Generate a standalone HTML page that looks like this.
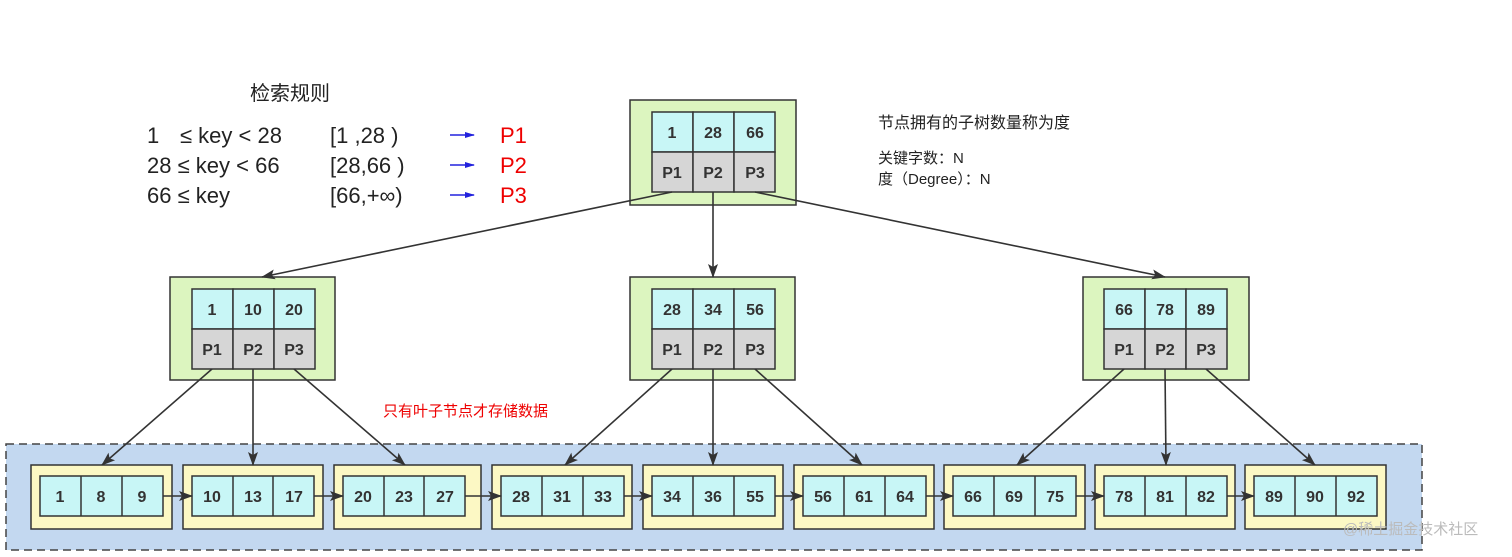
<!DOCTYPE html>
<html><head><meta charset="utf-8"><style>
body{margin:0;background:#fff;}
svg{display:block;}
text{font-family:"Liberation Sans","Noto Sans CJK SC",sans-serif;}
</style></head><body>
<svg width="1512" height="557" viewBox="0 0 1512 557" xmlns="http://www.w3.org/2000/svg">
<defs><marker id="a" markerWidth="14" markerHeight="12" refX="13" refY="6" orient="auto" markerUnits="userSpaceOnUse"><path d="M0,1 L14,6 L0,11 L3,6 z" fill="#333"/></marker>
<marker id="b" markerWidth="10" markerHeight="8" refX="9" refY="4" orient="auto" markerUnits="userSpaceOnUse"><path d="M0,1 L10,4 L0,7 z" fill="#2222dd"/></marker></defs>
<rect width="1512" height="557" fill="#fff"/>
<rect x="6" y="444" width="1416" height="106" fill="#c3d8f0" stroke="#444" stroke-width="1.5" stroke-dasharray="8,5"/>
<text x="250" y="100" font-size="20" fill="#222">检索规则</text>
<g font-size="22" fill="#222">
<text x="147" y="143">1</text><text x="180" y="143">≤ key &lt; 28</text><text x="330" y="143">[1  ,28  )</text>
<text x="147" y="173">28 ≤ key &lt; 66</text><text x="330" y="173">[28,66  )</text>
<text x="147" y="203">66 ≤ key</text><text x="330" y="203">[66,+∞)</text>
<text x="500" y="143" fill="#e00">P1</text><text x="500" y="173" fill="#e00">P2</text><text x="500" y="203" fill="#e00">P3</text>
</g>
<g stroke="#2222dd" stroke-width="1.6" marker-end="url(#b)">
<line x1="450" y1="135" x2="474" y2="135"/><line x1="450" y1="165" x2="474" y2="165"/><line x1="450" y1="195" x2="474" y2="195"/>
</g>
<text x="878" y="128" font-size="16" fill="#222">节点拥有的子树数量称为度</text>
<text x="878" y="163" font-size="15" fill="#222">关键字数：N</text>
<text x="878" y="184" font-size="15" fill="#222">度（Degree）：N</text>
<text x="383" y="416" font-size="15" fill="#e00">只有叶子节点才存储数据</text>
<g stroke="#333" stroke-width="1.5" font-size="17" font-weight="bold" text-anchor="middle">
<rect x="630" y="100" width="166" height="105" fill="#dcf5bf"/>
<rect x="652" y="112" width="41" height="40" fill="#c8f6f6"/><rect x="693" y="112" width="41" height="40" fill="#c8f6f6"/><rect x="734" y="112" width="41" height="40" fill="#c8f6f6"/>
<rect x="652" y="152" width="41" height="40" fill="#d6d6d6"/><rect x="693" y="152" width="41" height="40" fill="#d6d6d6"/><rect x="734" y="152" width="41" height="40" fill="#d6d6d6"/>
<rect x="170" y="277" width="165" height="103" fill="#dcf5bf"/>
<rect x="192" y="289" width="41" height="40" fill="#c8f6f6"/><rect x="233" y="289" width="41" height="40" fill="#c8f6f6"/><rect x="274" y="289" width="41" height="40" fill="#c8f6f6"/>
<rect x="192" y="329" width="41" height="40" fill="#d6d6d6"/><rect x="233" y="329" width="41" height="40" fill="#d6d6d6"/><rect x="274" y="329" width="41" height="40" fill="#d6d6d6"/>
<rect x="630" y="277" width="165" height="103" fill="#dcf5bf"/>
<rect x="652" y="289" width="41" height="40" fill="#c8f6f6"/><rect x="693" y="289" width="41" height="40" fill="#c8f6f6"/><rect x="734" y="289" width="41" height="40" fill="#c8f6f6"/>
<rect x="652" y="329" width="41" height="40" fill="#d6d6d6"/><rect x="693" y="329" width="41" height="40" fill="#d6d6d6"/><rect x="734" y="329" width="41" height="40" fill="#d6d6d6"/>
<rect x="1083" y="277" width="166" height="103" fill="#dcf5bf"/>
<rect x="1104" y="289" width="41" height="40" fill="#c8f6f6"/><rect x="1145" y="289" width="41" height="40" fill="#c8f6f6"/><rect x="1186" y="289" width="41" height="40" fill="#c8f6f6"/>
<rect x="1104" y="329" width="41" height="40" fill="#d6d6d6"/><rect x="1145" y="329" width="41" height="40" fill="#d6d6d6"/><rect x="1186" y="329" width="41" height="40" fill="#d6d6d6"/>
</g>
<g font-size="16" font-weight="bold" fill="#333" text-anchor="middle">
<text x="672" y="138">1</text><text x="713" y="138">28</text><text x="755" y="138">66</text>
<text x="672" y="178">P1</text><text x="713" y="178">P2</text><text x="755" y="178">P3</text>
<text x="212" y="315">1</text><text x="253" y="315">10</text><text x="294" y="315">20</text>
<text x="212" y="355">P1</text><text x="253" y="355">P2</text><text x="294" y="355">P3</text>
<text x="672" y="315">28</text><text x="713" y="315">34</text><text x="755" y="315">56</text>
<text x="672" y="355">P1</text><text x="713" y="355">P2</text><text x="755" y="355">P3</text>
<text x="1124" y="315">66</text><text x="1165" y="315">78</text><text x="1206" y="315">89</text>
<text x="1124" y="355">P1</text><text x="1165" y="355">P2</text><text x="1206" y="355">P3</text>
</g>
<g stroke="#333" stroke-width="1.5">
<rect x="31" y="465" width="141" height="64" fill="#fcf8c4"/><rect x="40" y="476" width="123" height="40" fill="#c8f6f6"/><line x1="81" y1="476" x2="81" y2="516"/><line x1="122" y1="476" x2="122" y2="516"/>
<rect x="183" y="465" width="140" height="64" fill="#fcf8c4"/><rect x="192" y="476" width="122" height="40" fill="#c8f6f6"/><line x1="233" y1="476" x2="233" y2="516"/><line x1="273" y1="476" x2="273" y2="516"/>
<rect x="334" y="465" width="147" height="64" fill="#fcf8c4"/><rect x="343" y="476" width="122" height="40" fill="#c8f6f6"/><line x1="384" y1="476" x2="384" y2="516"/><line x1="424" y1="476" x2="424" y2="516"/>
<rect x="492" y="465" width="140" height="64" fill="#fcf8c4"/><rect x="501" y="476" width="123" height="40" fill="#c8f6f6"/><line x1="542" y1="476" x2="542" y2="516"/><line x1="583" y1="476" x2="583" y2="516"/>
<rect x="643" y="465" width="140" height="64" fill="#fcf8c4"/><rect x="652" y="476" width="123" height="40" fill="#c8f6f6"/><line x1="693" y1="476" x2="693" y2="516"/><line x1="734" y1="476" x2="734" y2="516"/>
<rect x="794" y="465" width="140" height="64" fill="#fcf8c4"/><rect x="803" y="476" width="123" height="40" fill="#c8f6f6"/><line x1="844" y1="476" x2="844" y2="516"/><line x1="885" y1="476" x2="885" y2="516"/>
<rect x="944" y="465" width="141" height="64" fill="#fcf8c4"/><rect x="953" y="476" width="123" height="40" fill="#c8f6f6"/><line x1="994" y1="476" x2="994" y2="516"/><line x1="1035" y1="476" x2="1035" y2="516"/>
<rect x="1095" y="465" width="140" height="64" fill="#fcf8c4"/><rect x="1104" y="476" width="123" height="40" fill="#c8f6f6"/><line x1="1145" y1="476" x2="1145" y2="516"/><line x1="1186" y1="476" x2="1186" y2="516"/>
<rect x="1245" y="465" width="141" height="64" fill="#fcf8c4"/><rect x="1254" y="476" width="123" height="40" fill="#c8f6f6"/><line x1="1295" y1="476" x2="1295" y2="516"/><line x1="1336" y1="476" x2="1336" y2="516"/>
</g>
<g font-size="16" font-weight="bold" fill="#333" text-anchor="middle">
<text x="60" y="502">1</text><text x="101" y="502">8</text><text x="142" y="502">9</text>
<text x="212" y="502">10</text><text x="253" y="502">13</text><text x="294" y="502">17</text>
<text x="363" y="502">20</text><text x="404" y="502">23</text><text x="445" y="502">27</text>
<text x="521" y="502">28</text><text x="562" y="502">31</text><text x="603" y="502">33</text>
<text x="672" y="502">34</text><text x="713" y="502">36</text><text x="755" y="502">55</text>
<text x="823" y="502">56</text><text x="864" y="502">61</text><text x="905" y="502">64</text>
<text x="973" y="502">66</text><text x="1014" y="502">69</text><text x="1055" y="502">75</text>
<text x="1124" y="502">78</text><text x="1165" y="502">81</text><text x="1206" y="502">82</text>
<text x="1274" y="502">89</text><text x="1315" y="502">90</text><text x="1356" y="502">92</text>
</g>
<g stroke="#333" stroke-width="1.6" fill="none" marker-end="url(#a)">
<line x1="672" y1="192" x2="262" y2="277"/><line x1="713" y1="192" x2="713" y2="277"/><line x1="755" y1="192" x2="1165" y2="277"/>
<line x1="212" y1="369" x2="102" y2="465"/><line x1="253" y1="369" x2="253" y2="465"/><line x1="294" y1="369" x2="405" y2="465"/>
<line x1="672" y1="369" x2="565" y2="465"/><line x1="713" y1="369" x2="713" y2="465"/><line x1="755" y1="369" x2="862" y2="465"/>
<line x1="1124" y1="369" x2="1017" y2="465"/><line x1="1165" y1="369" x2="1166" y2="465"/><line x1="1206" y1="369" x2="1315" y2="465"/>
<line x1="163" y1="496" x2="192" y2="496"/><line x1="314" y1="496" x2="343" y2="496"/><line x1="465" y1="496" x2="501" y2="496"/>
<line x1="624" y1="496" x2="652" y2="496"/><line x1="775" y1="496" x2="803" y2="496"/><line x1="926" y1="496" x2="953" y2="496"/>
<line x1="1076" y1="496" x2="1104" y2="496"/><line x1="1227" y1="496" x2="1254" y2="496"/>
</g>
<text x="1343" y="534" font-size="15" fill="#bbb">@稀土掘金技术社区</text>
</svg>
</body></html>
